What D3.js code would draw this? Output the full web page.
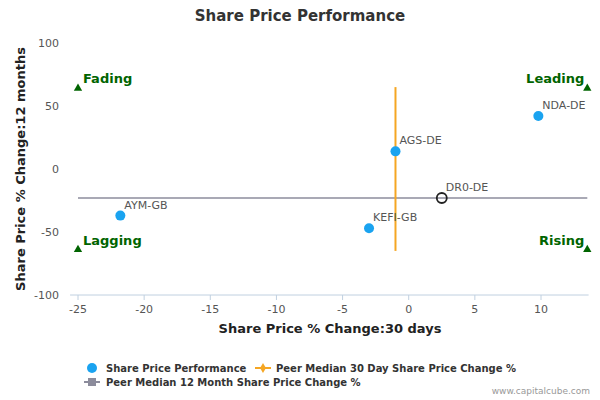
<!DOCTYPE html>
<html><head><meta charset="utf-8">
<script src="https://cdn.jsdelivr.net/npm/d3@7"></script>
<style>body{margin:0;background:#fff;font-family:"DejaVu Sans",sans-serif}</style>
</head><body><svg id="c" width="600" height="400"></svg>
<script>
var names = ["NDA-DE", "AGS-DE", "DR0-DE", "KEFI-GB", "AYM-GB"];
var x30 = [9.8, -1, 2.5, -3, -21.8];
var y12 = [42, 14, -23, -47, -37];
var hollow = [false, false, true, false, false];
var peerX = -1, peerY = -23;
var xTicks = [-25, -20, -15, -10, -5, 0, 5, 10];
var yTicks = [-100, -50, 0, 50, 100];
var corners = [
  { t: "Fading", x: -25, y: 64, a: "start" },
  { t: "Leading", x: 13.5, y: 64, a: "end" },
  { t: "Lagging", x: -25, y: -64, a: "start" },
  { t: "Rising", x: 13.5, y: -64, a: "end" }
];

var svg = d3.select("#c");
var x = d3.scaleLinear().domain([-25, 10]).range([78, 541]);
var y = d3.scaleLinear().domain([-100, 100]).range([295, 43]);
var xMin = -25.6, xMax = 13.6;

svg.append("text").attr("x", 300).attr("y", 21).attr("text-anchor", "middle")
  .attr("font-size", 15).attr("font-weight", 600).attr("fill", "#333").text("Share Price Performance");

// axes
svg.append("line").attr("x1", x(xMin)).attr("x2", x(xMax)).attr("y1", 295).attr("y2", 295).attr("stroke", "#c0d0e0");
xTicks.forEach(function (t) {
  svg.append("line").attr("x1", x(t)).attr("x2", x(t)).attr("y1", 295).attr("y2", 300).attr("stroke", "#c0d0e0");
  svg.append("text").attr("x", x(t)).attr("y", 313).attr("text-anchor", "middle")
    .attr("font-size", 11).attr("fill", "#555").text(t);
});
yTicks.forEach(function (t) {
  svg.append("text").attr("x", 59).attr("y", y(t) + 4).attr("text-anchor", "end")
    .attr("font-size", 11).attr("fill", "#555").text(t);
});
svg.append("text").attr("x", 330).attr("y", 333).attr("text-anchor", "middle")
  .attr("font-size", 13).attr("font-weight", "bold").attr("fill", "#222").text("Share Price % Change:30 days");
svg.append("text").attr("transform", "translate(25,169) rotate(-90)").attr("text-anchor", "middle")
  .attr("font-size", 13).attr("font-weight", "bold").attr("fill", "#222").text("Share Price % Change:12 months");

// peer lines
svg.append("line").attr("x1", x(-25)).attr("x2", x(13.5)).attr("y1", y(peerY)).attr("y2", y(peerY))
  .attr("stroke", "#8c8c9c").attr("stroke-width", 1.5);
svg.append("line").attr("x1", x(peerX)).attr("x2", x(peerX)).attr("y1", y(65)).attr("y2", y(-65))
  .attr("stroke", "#f5a623").attr("stroke-width", 2);

// corners
corners.forEach(function (c) {
  var px = x(c.x), py = y(c.y);
  svg.append("path").attr("d", d3.symbol(d3.symbolTriangle, 30)()).attr("transform", "translate(" + px + "," + py + ")")
    .attr("fill", "#006400");
  svg.append("text").attr("x", c.a == "start" ? px + 5 : px - 3).attr("y", py - 5).attr("text-anchor", c.a)
    .attr("font-size", 13).attr("font-weight", "bold").attr("fill", "#006400").text(c.t);
});

// points
names.forEach(function (n, i) {
  var px = x(x30[i]), py = y(y12[i]);
  svg.append("circle").attr("cx", px).attr("cy", py).attr("r", 5)
    .attr("fill", hollow[i] ? "none" : "#1aa3f0").attr("stroke", hollow[i] ? "#222" : "none").attr("stroke-width", 1.8);
  svg.append("text").attr("x", px + 4).attr("y", py - 7).attr("font-size", 11).attr("fill", "#555").text(n);
});

// legend
var lg = svg.append("g").attr("font-size", 10).attr("font-weight", "bold").attr("fill", "#333");
lg.append("circle").attr("cx", 92).attr("cy", 368).attr("r", 5).attr("fill", "#1aa3f0");
lg.append("text").attr("x", 106).attr("y", 372).text("Share Price Performance");
lg.append("line").attr("x1", 255).attr("x2", 271).attr("y1", 368).attr("y2", 368).attr("stroke", "#f5a623").attr("stroke-width", 2);
lg.append("path").attr("d", d3.symbol(d3.symbolDiamond, 30)()).attr("transform", "translate(263,368)").attr("fill", "#f5a623");
lg.append("text").attr("x", 276).attr("y", 372).text("Peer Median 30 Day Share Price Change %");
lg.append("line").attr("x1", 84).attr("x2", 100).attr("y1", 382).attr("y2", 382).attr("stroke", "#8c8c9c").attr("stroke-width", 2);
lg.append("rect").attr("x", 88).attr("y", 378).attr("width", 8).attr("height", 8).attr("fill", "#8c8c9c");
lg.append("text").attr("x", 106).attr("y", 386).text("Peer Median 12 Month Share Price Change %");

svg.append("text").attr("x", 590).attr("y", 394).attr("text-anchor", "end").attr("font-size", 9)
  .attr("fill", "#999").text("www.capitalcube.com");
</script></body></html>
